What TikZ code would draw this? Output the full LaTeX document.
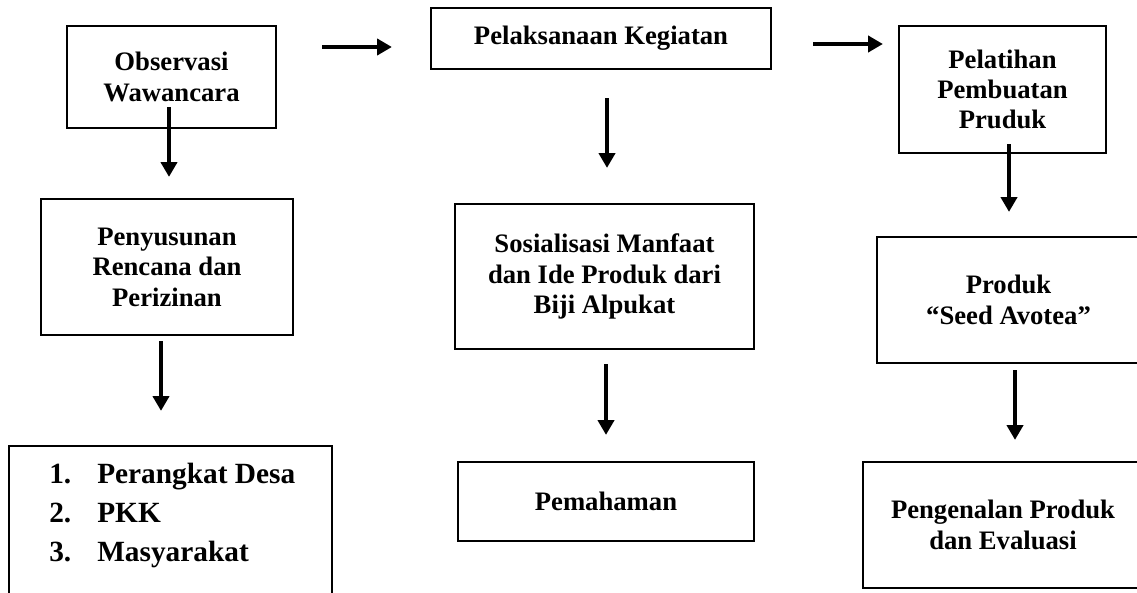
\documentclass[tikz,border=0pt]{standalone}
\usepackage{fontspec}
\setmainfont{Liberation Serif}
\usetikzlibrary{arrows.meta,calc}
\tikzset{
  box/.style={draw=black, line width=1.7pt, align=center, inner sep=0pt,
    font=\bfseries\fontsize{20}{22.8}\selectfont},
  arr/.style={line width=2.6pt, -{Triangle[length=11pt,width=12pt]}},
}
\begin{document}
\begin{tikzpicture}[x=0.75pt,y=-0.75pt]
\useasboundingbox (0,0) rectangle (1137,592);
\clip (0,0) rectangle (1137,592);
% column 1
\node[box, minimum width=209*0.75pt, minimum height=102*0.75pt] (obs) at (171.5,77) {Observasi\\Wawancara};
\node[box, minimum width=252*0.75pt, minimum height=136*0.75pt] (pen) at (167,267) {Penyusunan\\Rencana dan\\Perizinan};
\node[box, minimum width=323*0.75pt, minimum height=180*0.75pt] (lst) at (170.5,536) {};
\node[align=left, anchor=north west, inner sep=0pt,
  font=\bfseries\fontsize{22}{29.25}\selectfont] (items) at (49,463)
  {\makebox[36pt][l]{1.}Perangkat Desa\\\makebox[36pt][l]{2.}PKK\\\makebox[36pt][l]{3.}Masyarakat};
% column 2
\node[box, minimum width=340*0.75pt, minimum height=61*0.75pt] (pel) at (601,38.5) {Pelaksanaan Kegiatan};
\node[box, minimum width=299*0.75pt, minimum height=145*0.75pt] (sos) at (604.5,276.5) {Sosialisasi Manfaat\\dan Ide Produk dari\\Biji Alpukat};
\node[box, minimum width=296*0.75pt, minimum height=79*0.75pt] (pem) at (606,501.5) {Pemahaman};
% column 3
\node[box, minimum width=207*0.75pt, minimum height=127*0.75pt] (lat) at (1002.5,89.5) {Pelatihan\\Pembuatan\\Pruduk};
\node[box, minimum width=263*0.75pt, minimum height=126*0.75pt] (prod) at (1008.5,300) {Produk\\``Seed Avotea''};
\node[box, minimum width=280*0.75pt, minimum height=126*0.75pt] (peng) at (1003,525) {Pengenalan Produk\\dan Evaluasi};
% arrows
\draw[arr] ($(obs.east)+(45,-30)$) -- ($(pel.west)+(-38,8.5)$);
\draw[arr] ($(pel.east)+(41,5.5)$) -- ($(lat.west)+(-15,-45.5)$);
\draw[arr] ($(obs.south)+(-2.5,-22)$) -- ($(obs.south |- pen.north)+(-2.5,-21)$);
\draw[arr] ($(pen.south)+(-6,5)$) -- ($(pen.south |- lst.north)+(-6,-34)$);
\draw[arr] ($(pel.south)+(6,28)$) -- ($(pel.south |- sos.north)+(6,-35)$);
\draw[arr] ($(sos.south)+(1.5,14)$) -- ($(sos.south |- pem.north)+(1.5,-26)$);
\draw[arr] ($(lat.south)+(6.5,-10)$) -- ($(lat.south |- prod.north)+(6.5,-24)$);
\draw[arr] ($(prod.south)+(6.5,6)$) -- ($(prod.south |- peng.north)+(6.5,-21)$);
\end{tikzpicture}
\end{document}
